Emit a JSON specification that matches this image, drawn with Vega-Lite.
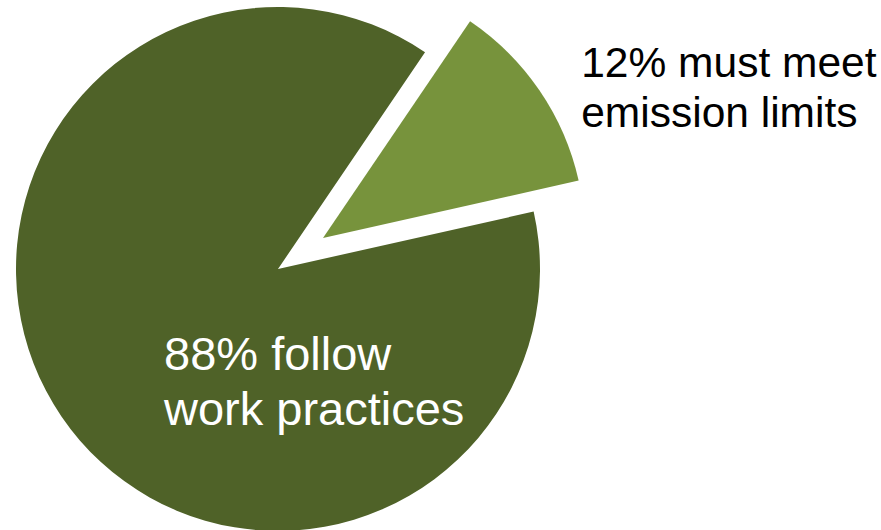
{
  "$schema": "https://vega.github.io/schema/vega-lite/v6.json",
  "width": 556,
  "height": 538,
  "autosize": {"type": "none"},
  "padding": {"left": 0, "top": 0, "right": 325, "bottom": 0},
  "background": "white",
  "config": {"view": {"stroke": null}},
  "data": {
    "values": [
      {"group": "emission limits", "value": 12, "label": "12% must meet\nemission limits"},
      {"group": "work practices", "value": 88, "label": "88% follow\nwork practices"}
    ]
  },
  "transform": [
    {"stack": "value", "groupby": [], "as": ["v0", "v1"], "sort": [{"field": "value", "order": "ascending"}]}
  ],
  "encoding": {
    "theta": {"field": "v0", "type": "quantitative", "scale": {"domain": [0, 100], "range": [0.596, 6.879]}},
    "theta2": {"field": "v1"}
  },
  "layer": [
    {
      "transform": [{"filter": "datum.group === 'work practices'"}],
      "mark": {"type": "arc", "outerRadius": 262, "fill": "#4F6228", "stroke": null}
    },
    {
      "transform": [{"filter": "datum.group === 'emission limits'"}],
      "mark": {"type": "arc", "outerRadius": 262, "fill": "#77933C", "stroke": null, "xOffset": 45, "yOffset": -31}
    },
    {
      "transform": [{"filter": "datum.group === 'emission limits'"}],
      "mark": {"type": "text", "radius": 232, "dx": 173, "dy": 0, "align": "left", "baseline": "alphabetic", "lineBreak": "\n", "lineHeight": 50, "font": "Liberation Sans", "fontSize": 42.5, "fill": "#000000"},
      "encoding": {"text": {"field": "label"}}
    },
    {
      "transform": [{"filter": "datum.group === 'work practices'"}],
      "mark": {"type": "text", "radius": 0, "dx": -114, "dy": 101, "align": "left", "baseline": "alphabetic", "lineBreak": "\n", "lineHeight": 55, "font": "Liberation Sans", "fontSize": 47, "fill": "#FFFFFF"},
      "encoding": {"text": {"field": "label"}}
    }
  ]
}
